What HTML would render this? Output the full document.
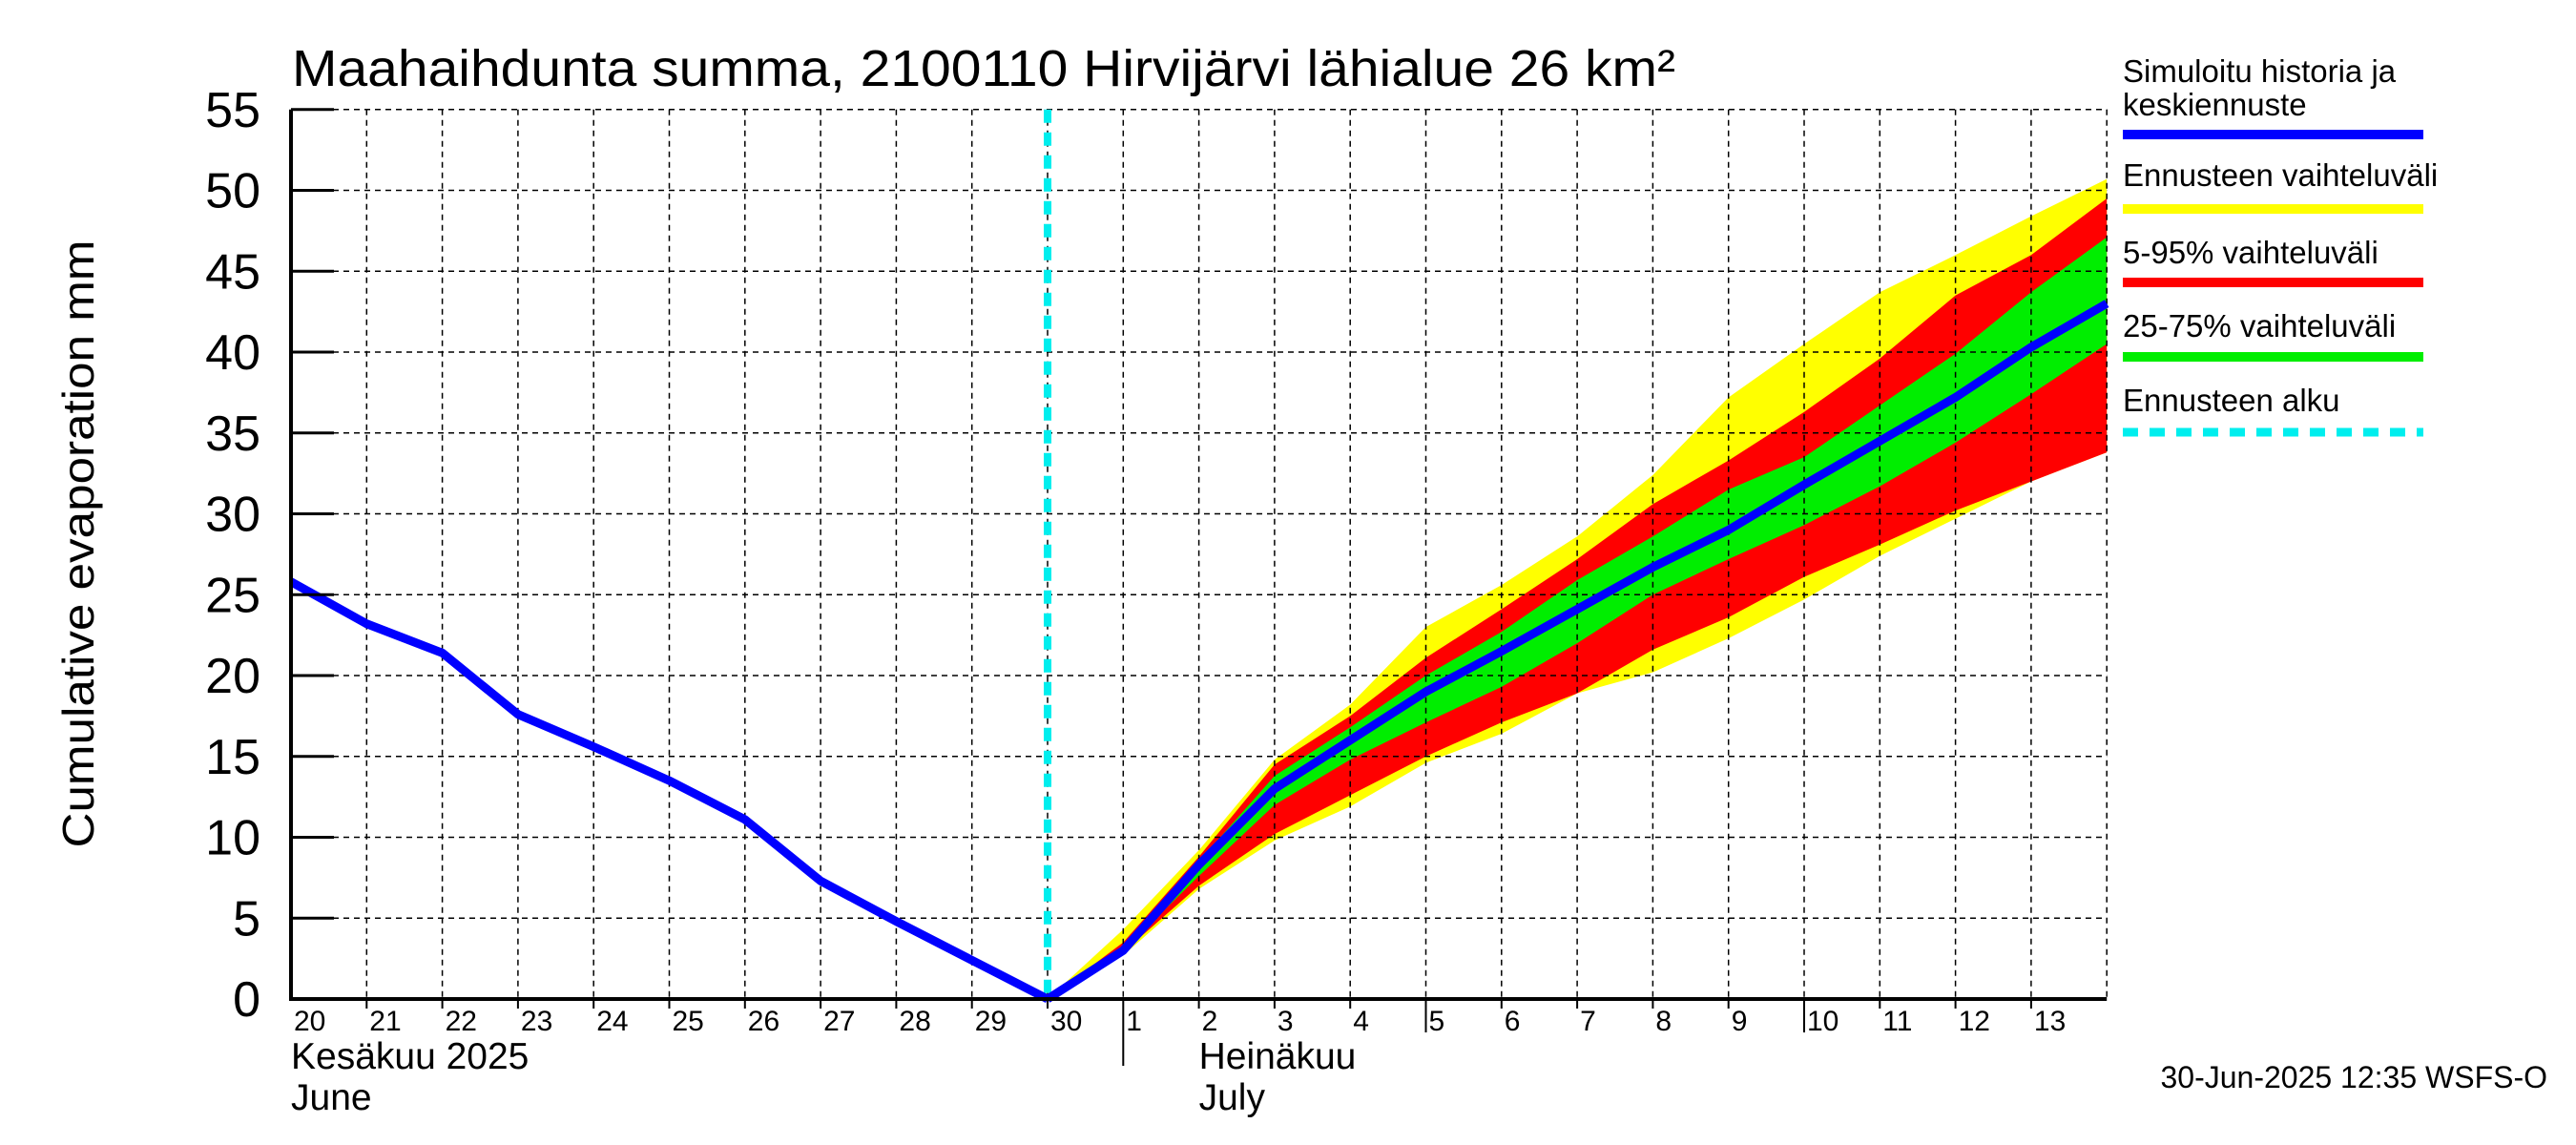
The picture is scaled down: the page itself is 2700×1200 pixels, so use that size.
<!DOCTYPE html>
<html><head><meta charset="utf-8"><style>
html,body{margin:0;padding:0;background:#fff;}
svg{display:block;font-family:"Liberation Sans",Arial,sans-serif;}
</style></head><body>
<svg id="chart" xmlns="http://www.w3.org/2000/svg" width="2700" height="1200" viewBox="0 0 2700 1200">
<rect x="0" y="0" width="2700" height="1200" fill="#fff"/>
<text x="306" y="90" font-size="54" textLength="1450" lengthAdjust="spacingAndGlyphs">Maahaihdunta summa, 2100110 Hirvijärvi lähialue 26 km²</text>
<text transform="translate(98,570) rotate(-90)" text-anchor="middle" font-size="46" textLength="637" lengthAdjust="spacingAndGlyphs">Cumulative evaporation   mm</text>
<g id="bands"></g>
<g id="grid"></g>
<g id="series"></g>
<g id="axes"></g>
<g>
<text x="2225" y="86" font-size="33">Simuloitu historia ja</text>
<text x="2225" y="121" font-size="33">keskiennuste</text>
<rect x="2225" y="136" width="315" height="10" fill="#0000ff"/>
<text x="2225" y="195" font-size="33">Ennusteen vaihteluväli</text>
<rect x="2225" y="214" width="315" height="10" fill="#ffff00"/>
<text x="2225" y="276" font-size="33">5-95% vaihteluväli</text>
<rect x="2225" y="291" width="315" height="10" fill="#ff0000"/>
<text x="2225" y="353" font-size="33">25-75% vaihteluväli</text>
<rect x="2225" y="369" width="315" height="10" fill="#00ee00"/>
<text x="2225" y="431" font-size="33">Ennusteen alku</text>
<line x1="2225" y1="453" x2="2540" y2="453" stroke="#00eeee" stroke-width="9" stroke-dasharray="16 12"/>
</g>
<text x="2670" y="1140" font-size="32" text-anchor="end">30-Jun-2025 12:35 WSFS-O</text>
</svg>
<script>
const dayLabels=["20","21","22","23","24","25","26","27","28","29","30","1","2","3","4","5","6","7","8","9","10","11","12","13"];
const yTicks=[0,5,10,15,20,25,30,35,40,45,50,55];
const histDays=[0,1,2,3,4,5,6,7,8,9,10];
const histVals=[25.8,23.2,21.4,17.6,15.6,13.5,11.1,7.3,4.8,2.4,0];
const fcDays=[10,11,12,13,14,15,16,17,18,19,20,21,22,23,24];
const fcMedian=[0,3.0,8.3,13.0,16.0,19.0,21.5,24.1,26.7,29.0,31.8,34.5,37.2,40.3,43.0];
const yelHi=[0,4.3,9.2,14.8,18.2,23.0,25.6,28.6,32.4,37.2,40.5,43.7,46.0,48.4,50.7];
const yelLo=[0,2.7,6.8,9.8,11.9,14.6,16.4,18.9,20.2,22.3,24.7,27.4,29.7,32.0,33.8];
const redHi=[0,3.5,8.8,14.5,17.5,21.1,24.1,27.2,30.6,33.3,36.3,39.6,43.5,46.0,49.5];
const redLo=[0,2.9,7.0,10.2,12.6,15.0,17.1,18.9,21.6,23.6,26.1,28.1,30.2,32.0,33.8];
const grnHi=[0,3.2,8.5,13.8,16.8,20.0,22.7,25.9,28.6,31.5,33.5,36.7,39.9,43.7,47.1];
const grnLo=[0,3.0,7.6,12.0,14.8,17.1,19.3,22.0,25.0,27.2,29.3,31.7,34.4,37.4,40.5];
const forecastStartDay=10;
const monthStartDay=11;

const X0=305,DX=79.3,Y0=1047,DY=16.95,NDAYS=24;
const xs=d=>X0+d*DX, ys=v=>Y0-v*DY;
const NS="http://www.w3.org/2000/svg";
function mk(tag,attrs,parent){const e=document.createElementNS(NS,tag);for(const k in attrs)e.setAttribute(k,attrs[k]);parent.appendChild(e);return e;}
const grid=document.getElementById('grid'),axes=document.getElementById('axes'),bands=document.getElementById('bands'),series=document.getElementById('series');

function band(hi,lo,color,name){
  let pts=fcDays.map((d,i)=>xs(d)+','+ys(hi[i]));
  for(let i=fcDays.length-1;i>=0;i--)pts.push(xs(fcDays[i])+','+ys(lo[i]));
  const p=mk('polygon',{points:pts.join(' '),fill:color},bands);
  
  
}
band(yelHi,yelLo,'#ffff00','band-forecast-range');
band(redHi,redLo,'#ff0000','band-5-95');
band(grnHi,grnLo,'#00ee00','band-25-75');

for(let d=1;d<=NDAYS;d++){
  const l=mk('line',{x1:xs(d),y1:ys(55),x2:xs(d),y2:Y0,stroke:'#000','stroke-width':1.5,'stroke-dasharray':'6 5'},grid);
  
  
}
yTicks.forEach(v=>{
  if(v>0){
    const l=mk('line',{x1:X0,y1:ys(v),x2:xs(NDAYS),y2:ys(v),stroke:'#000','stroke-width':1.5,'stroke-dasharray':'6 5'},grid);
    
    
  }
  const t=mk('line',{x1:X0,y1:ys(v),x2:X0+45,y2:ys(v),stroke:'#000','stroke-width':3},axes);
  
  
  const lb=mk('text',{x:X0-32,y:ys(v)+18,'font-size':52,'text-anchor':'end'},axes);
  lb.textContent=v;
  
  
});

const fs=mk('line',{x1:xs(forecastStartDay),y1:ys(55),x2:xs(forecastStartDay),y2:Y0,stroke:'#00eeee','stroke-width':8,'stroke-dasharray':'14 10'},series);



const hp=mk('polyline',{points:histDays.map((d,i)=>xs(d)+','+ys(histVals[i])).join(' '),fill:'none',stroke:'#0000ff','stroke-width':9,'stroke-linejoin':'round'},series);


const mp=mk('polyline',{points:fcDays.map((d,i)=>xs(d)+','+ys(fcMedian[i])).join(' '),fill:'none',stroke:'#0000ff','stroke-width':9,'stroke-linejoin':'round'},series);



const ax=mk('path',{d:`M${X0},${ys(55)} L${X0},${Y0} L${xs(NDAYS)},${Y0}`,fill:'none',stroke:'#000','stroke-width':4},axes);



dayLabels.forEach((lab,d)=>{
  let len=10; if(d===15||d===20)len=35; if(d===monthStartDay)len=70;
  if(d>0){
    const tk=mk('line',{x1:xs(d),y1:Y0,x2:xs(d),y2:Y0+len,stroke:'#000','stroke-width':2},axes);
    
    
  }
  const t=mk('text',{x:xs(d)+3,y:1080,'font-size':30},axes);
  t.textContent=lab;
  
  
});
[['Kesäkuu   2025',xs(0),1120,'month-label-june-fi'],['June',xs(0),1163,'month-label-june-en'],['Heinäkuu',xs(monthStartDay+1),1120,'month-label-july-fi'],['July',xs(monthStartDay+1),1163,'month-label-july-en']].forEach(m=>{
  const t=mk('text',{x:m[1],y:m[2],'font-size':39,'xml:space':'preserve'},axes);
  t.textContent=m[0];
  
  
});
</script>
</body></html>
